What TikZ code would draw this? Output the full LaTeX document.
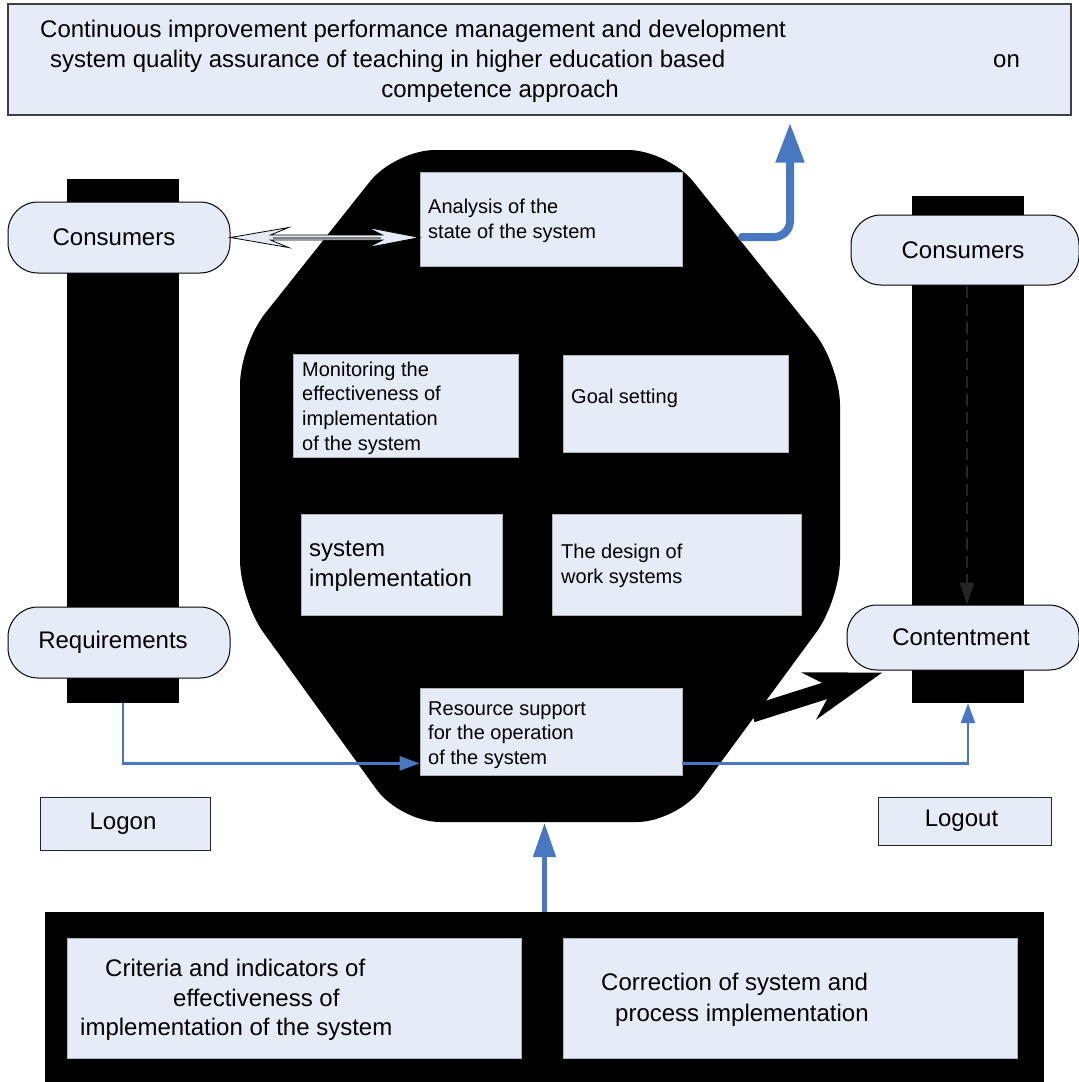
\documentclass[tikz,border=0pt]{standalone}
\usepackage{fontspec}
\setmainfont{Liberation Sans}
\usetikzlibrary{arrows.meta,calc}
\definecolor{boxfill}{RGB}{230,236,247}
\definecolor{bluec}{RGB}{72,120,194}
\definecolor{edgegray}{RGB}{64,64,64}
\begin{document}
\begin{tikzpicture}[x=1pt,y=-1pt,
  ibox/.style={draw=gray!60, line width=0.8pt, fill=boxfill, inner sep=0pt},
  obox/.style={draw=edgegray, line width=1.3pt, fill=boxfill, inner sep=0pt, font=\fontsize{24}{30}\selectfont},
  rbox/.style={draw=black, line width=1pt, fill=boxfill, rounded corners=30pt, inner sep=0pt, font=\fontsize{24}{30}\selectfont},
  blackbar/.style={fill=black, draw=none, inner sep=0pt},
  tsmall/.style={inner sep=0pt, anchor=base west, font=\fontsize{20}{24}\selectfont},
  tbig/.style={inner sep=0pt, anchor=base west, font=\fontsize{24}{30}\selectfont},
  bluearrow/.style={draw=bluec, line width=2.5pt, -{Triangle[length=20pt,width=14pt]}}
]
\useasboundingbox (0,0) rectangle (1079,1082);

% octagon (black, rounded)
\fill[black, rounded corners=40pt] (395,150) -- (668,150) -- (840,365) -- (840,600) -- (677,822) -- (400,822) -- (240,600) -- (240,345) -- cycle;
\coordinate (octR) at (742,237);
\coordinate (octB) at (544.5,823);
\coordinate (octA) at (752,714);

% black bars and bottom block
\node[blackbar, minimum width=112pt, minimum height=524pt] (lbar) at (123,441) {};
\node[blackbar, minimum width=112pt, minimum height=507pt] (rbar) at (968,449.5) {};
\node[blackbar, minimum width=999pt, minimum height=172pt] (bot) at (544.5,998) {};

% title
\node[obox, minimum width=1063pt, minimum height=111pt] (title) at (539.5,59.5) {};
\node[tbig] at (40,37) {Continuous improvement performance management and development};
\node[tbig] at (50,67) {system quality assurance of teaching in higher education based};
\node[tbig] at (993,67) {on};
\node[tbig, anchor=base] at (500,97) {competence approach};

% inner boxes
\node[ibox, minimum width=262pt, minimum height=94pt] (ana) at (551,219) {};
\node[tsmall] at (428,213) {Analysis of the};
\node[tsmall] at (428,238) {state of the system};

\node[ibox, minimum width=225pt, minimum height=103pt] (mon) at (405.5,405.5) {};
\node[tsmall] at (302,376) {Monitoring the};
\node[tsmall] at (302,400) {effectiveness of};
\node[tsmall] at (302,425) {implementation};
\node[tsmall] at (302,450) {of the system};

\node[ibox, minimum width=225pt, minimum height=97pt] (goal) at (675.5,403.5) {};
\node[tsmall] at (571,403) {Goal setting};

\node[ibox, minimum width=201pt, minimum height=101pt] (impl) at (401.5,564.5) {};
\node[tbig] at (309,556) {system};
\node[tbig] at (309,586) {implementation};

\node[ibox, minimum width=249pt, minimum height=101pt] (design) at (676.5,564.5) {};
\node[tsmall] at (561,558) {The design of};
\node[tsmall] at (561,583) {work systems};

\node[ibox, minimum width=262pt, minimum height=87pt] (res) at (551,731.5) {};
\node[tsmall] at (428,715) {Resource support};
\node[tsmall] at (428,739) {for the operation};
\node[tsmall] at (428,764) {of the system};

% side rounded boxes
\node[rbox, minimum width=222pt, minimum height=71pt] (lcons) at (119,237.5) {\hspace*{-10pt}Consumers};
\node[rbox, minimum width=222pt, minimum height=71pt] (req) at (119,642.5) {\hspace*{-12pt}Requirements};
\node[rbox, minimum width=228pt, minimum height=70pt] (rcons) at (965,250) {\hspace*{-4pt}Consumers};
\node[rbox, minimum width=232pt, minimum height=65pt] (rcont) at (963,637.5) {\hspace*{-4pt}Contentment};

% logon / logout
\node[obox, draw=black!85, line width=1pt, minimum width=170pt, minimum height=53pt] (logon) at (125,823.5) {\hspace*{-4pt}Logon};
\node[obox, draw=black!85, line width=1pt, minimum width=173pt, minimum height=48pt] (logout) at (964.5,821) {\hspace*{-6pt}Logout};

% bottom boxes
\node[ibox, minimum width=454pt, minimum height=120pt] (crit) at (294,998) {};
\node[tbig] at (105,976) {Criteria and indicators of};
\node[tbig] at (173,1006) {effectiveness of};
\node[tbig] at (80,1035) {implementation of the system};

\node[ibox, minimum width=454pt, minimum height=120pt] (corr) at (790,998) {};
\node[tbig] at (601,990) {Correction of system and};
\node[tbig] at (615,1021) {process implementation};

% hollow double arrow Consumers <-> Analysis
\coordinate (dA) at (lcons.east);
\coordinate (dB) at (ana.west |- lcons.east);
\filldraw[fill=boxfill, draw=black, line width=0.8pt, line join=miter]
  (dA) -- ($(dA)+(58,-10)$) -- ($(dA)+(40,-2.5)$) -- ($(dB)+(-37,-2.5)$) -- ($(dB)+(-52,-10)$) -- (dB)
  -- ($(dB)+(-52,10)$) -- ($(dB)+(-37,2.5)$) -- ($(dA)+(40,2.5)$) -- ($(dA)+(58,10)$) -- cycle;
\draw[gray, line width=2pt] ($(dA)+(42,0)$) -- ($(dB)+(-39,0)$);

% blue thick arrow to title
\coordinate (tIn) at (title.south -| 790,0);
\draw[bluec, line width=8pt, line cap=round, rounded corners=16pt, -{Triangle[length=40pt,width=27pt]}]
  (octR) -- (octR -| tIn) -- ($(tIn)+(0,7)$);

% requirements -> resource
\draw[bluearrow] (lbar.south) |- ($(res.south west)+(0,-12)$);
% resource -> contentment
\draw[bluearrow] ($(res.south east)+(0,-12)$) -| (rbar.south);

% dashed consumers -> contentment
\draw[black!85, line width=2.5pt, dash pattern=on 12pt off 6pt, -{Triangle[length=22pt,width=14pt]}]
  (rcons.south -| 967,0) -- (rcont.north -| 967,0);

% bottom block -> octagon
\draw[bluec, line width=4.5pt, -{Triangle[length=34pt,width=22pt]}] (bot.north) -- (octB);

% big black arrow
\draw[black, line width=17pt, -{Stealth[length=76pt,width=48pt,inset=24pt]}] (octA) -- ($(rcont.south west)+(36,2)$);
\end{tikzpicture}
\end{document}
